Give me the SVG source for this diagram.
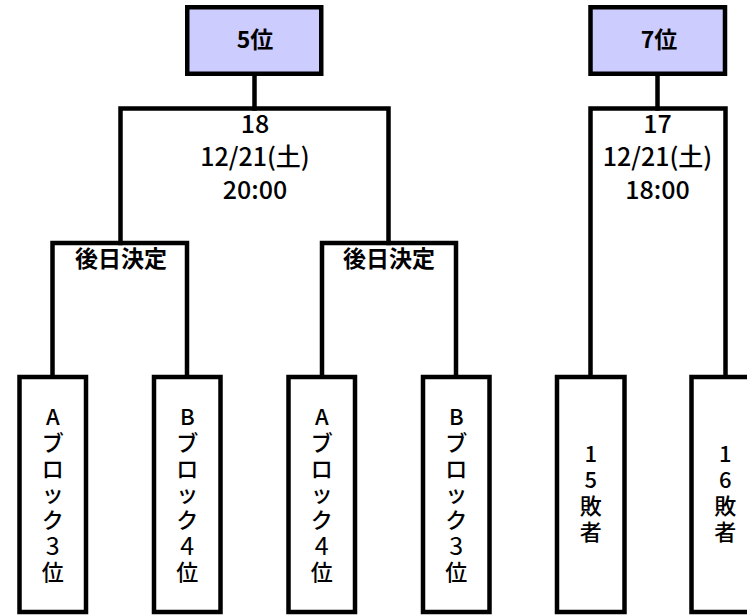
<svg xmlns="http://www.w3.org/2000/svg" width="747" height="615" viewBox="0 0 747 615">
<style>
text{font-family:"Noto Sans CJK JP","Noto Sans",sans-serif;fill:#000;text-anchor:middle}
.rank rect{fill:#ccccff;stroke:#000;stroke-width:4.5}
.rank text{font-size:23px;font-weight:bold}
.leaf rect{fill:#fff;stroke:#000;stroke-width:4.5}
.leaf text{font-size:22px;font-weight:500}
.leaf .d{font-size:25px;font-weight:normal}
.match text{font-size:25px;font-weight:500}
.pend text{font-size:23px;font-weight:bold}
#connectors path{fill:none;stroke:#000;stroke-width:4.5;stroke-linecap:square}
</style>
<rect width="747" height="615" fill="#fff"/>
<g id="connectors">
<path d="M254.5 76V108.5"/>
<path d="M120.5 243V108.5H388.5V243"/>
<path d="M52.5 377V243H187V377"/>
<path d="M322 377V243H456V377"/>
<path d="M657.5 76V108.5"/>
<path d="M590.5 377V108.5H725.5V377"/>
</g>
<g id="rank5" class="rank"><rect x="187.25" y="7.25" width="134" height="66.5"/><text x="255" y="48">5位</text></g>
<g id="rank7" class="rank"><rect x="590.5" y="7.25" width="134.5" height="66.5"/><text x="659" y="48">7位</text></g>
<g id="match18" class="match"><text x="255" y="133">18</text><text x="255" y="166">12/21(土)</text><text x="255" y="199">20:00</text></g>
<g id="match17" class="match"><text x="657.5" y="133">17</text><text x="657.5" y="166">12/21(土)</text><text x="657.5" y="199">18:00</text></g>
<g id="pendL" class="pend"><text x="121" y="267">後日決定</text></g>
<g id="pendR" class="pend"><text x="389" y="267">後日決定</text></g>
<g id="leafA3" class="leaf"><rect x="19.5" y="377" width="66.5" height="235"/><text x="52.75" y="425">A</text><text x="52.75" y="451">ブ</text><text x="52.75" y="476.5">ロ</text><text x="52.75" y="502">ッ</text><text x="52.75" y="528">ク</text><text class="d" x="52.75" y="555">3</text><text x="52.75" y="580">位</text></g>
<g id="leafB4" class="leaf"><rect x="154" y="377" width="66.5" height="235"/><text x="187.25" y="425">B</text><text x="187.25" y="451">ブ</text><text x="187.25" y="476.5">ロ</text><text x="187.25" y="502">ッ</text><text x="187.25" y="528">ク</text><text class="d" x="187.25" y="555">4</text><text x="187.25" y="580">位</text></g>
<g id="leafA4" class="leaf"><rect x="288.5" y="377" width="66.5" height="235"/><text x="321.75" y="425">A</text><text x="321.75" y="451">ブ</text><text x="321.75" y="476.5">ロ</text><text x="321.75" y="502">ッ</text><text x="321.75" y="528">ク</text><text class="d" x="321.75" y="555">4</text><text x="321.75" y="580">位</text></g>
<g id="leafB3" class="leaf"><rect x="423" y="377" width="66.5" height="235"/><text x="456.25" y="425">B</text><text x="456.25" y="451">ブ</text><text x="456.25" y="476.5">ロ</text><text x="456.25" y="502">ッ</text><text x="456.25" y="528">ク</text><text class="d" x="456.25" y="555">3</text><text x="456.25" y="580">位</text></g>
<g id="leaf15" class="leaf"><rect x="557" y="377" width="67.5" height="235"/><text x="590.75" y="462">1</text><text x="590.75" y="488">5</text><text x="590.75" y="514">敗</text><text x="590.75" y="540">者</text></g>
<g id="leaf16" class="leaf"><rect x="691.5" y="377" width="67.5" height="235"/><text x="725.25" y="462">1</text><text x="725.25" y="488">6</text><text x="725.25" y="514">敗</text><text x="725.25" y="540">者</text></g>
</svg>
